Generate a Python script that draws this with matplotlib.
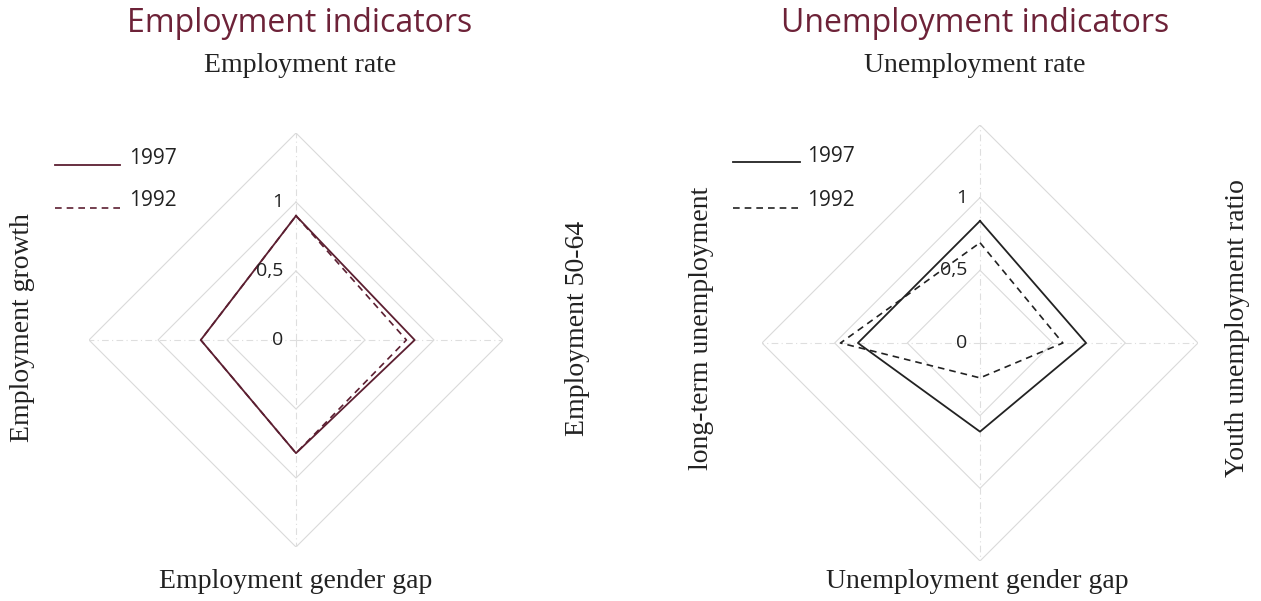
import numpy as np
import matplotlib
matplotlib.use('Agg')
import matplotlib.pyplot as plt
from matplotlib.lines import Line2D

# axes order: top, right, bottom, left
emp_labels = ['Employment rate', 'Employment 50-64', 'Employment gender gap', 'Employment growth']
emp_1997 = [0.90, 0.86, 0.82, 0.69]
emp_1992 = [0.90, 0.80, 0.82, 0.69]

unemp_labels = ['Unemployment rate', 'Youth unemployment ratio', 'Unemployment gender gap', 'long-term unemployment']
unemp_1997 = [0.84, 0.73, 0.61, 0.84]
unemp_1992 = [0.69, 0.57, 0.24, 0.96]

ticks = [0, 0.5, 1]
tick_labels = ['0', '0,5', '1']
grid_levels = [0.5, 1.0, 1.5]
rmax = 1.5

angles = np.deg2rad([90, 0, 270, 180])

maroon = '#5c1f31'
title_col = '#6d2238'
serif = ['Liberation Serif', 'DejaVu Serif']
sans = ['Open Sans', 'DejaVu Sans']

W, H = 1261, 601
fig = plt.figure(figsize=(W / 100, H / 100), dpi=100)


def to_xy(vals):
    v = np.array(vals + vals[:1])
    a = np.concatenate([angles, angles[:1]])
    return v * np.cos(a), v * np.sin(a)


def radar(cx, cy, r_px, v97, v92, col):
    ax = fig.add_axes([(cx - r_px) / W, (H - cy - r_px) / H, 2 * r_px / W, 2 * r_px / H])
    ax.set_xlim(-rmax, rmax)
    ax.set_ylim(-rmax, rmax)
    ax.set_aspect('equal')
    ax.axis('off')
    for g in grid_levels:
        x, y = to_xy([g] * 4)
        ax.plot(x, y, color='#dadada', lw=0.8, zorder=1)
    for a in angles:
        ax.plot([0, rmax * np.cos(a)], [0, rmax * np.sin(a)], color='#dedede',
                lw=0.8, ls=(0, (6, 3, 1, 3)), zorder=1)
    for t, lab in zip(ticks, tick_labels):
        ax.text(-0.09, t, lab, ha='right', va='center', fontsize=14,
                family=sans, color='#222222', zorder=3)
    x, y = to_xy(v92)
    ax.plot(x, y, color=col, lw=1.2, ls=(0, (4, 3)), zorder=2)
    x, y = to_xy(v97)
    ax.plot(x, y, color=col, lw=1.3, zorder=2)
    return ax


radar(296, 340, 207, emp_1997, emp_1992, maroon)
radar(980, 343, 218, unemp_1997, unemp_1992, '#222222')


def ftext(x, y, s, **kw):
    fig.text(x / W, 1 - y / H, s, ha='center', va='center', **kw)


def legend(x0, x1, xt, y1, y2, col):
    fig.add_artist(Line2D([x0 / W, x1 / W], [1 - y1 / H] * 2, color=col, lw=1.3))
    fig.add_artist(Line2D([x0 / W, x1 / W], [1 - y2 / H] * 2, color=col, lw=1.2, ls=(0, (4, 3))))
    fig.text(xt / W, 1 - (y1 - 6) / H, '1997', ha='left', va='center', fontsize=15, family=sans, color='#222222')
    fig.text(xt / W, 1 - (y2 - 7) / H, '1992', ha='left', va='center', fontsize=15, family=sans, color='#222222')


legend(55, 120, 129, 165, 208, maroon)
legend(733, 800, 807, 162, 208, '#222222')

ftext(300, 23, 'Employment indicators', fontsize=23, family=sans, color=title_col)
ftext(975, 23, 'Unemployment indicators', fontsize=23, family=sans, color=title_col)

lab_kw = dict(fontsize=20, family=serif, color='#222222')
ftext(300, 66, emp_labels[0], **lab_kw)
ftext(577, 328, emp_labels[1], rotation=90, **lab_kw)
ftext(296, 582, emp_labels[2], **lab_kw)
ftext(23, 328, emp_labels[3], rotation=90, **lab_kw)

ftext(975, 66, unemp_labels[0], **lab_kw)
ftext(1237, 328, unemp_labels[1], rotation=90, **lab_kw)
ftext(977, 582, unemp_labels[2], **lab_kw)
ftext(701, 328, unemp_labels[3], rotation=90, **lab_kw)

fig.savefig('out.png', dpi=100)
